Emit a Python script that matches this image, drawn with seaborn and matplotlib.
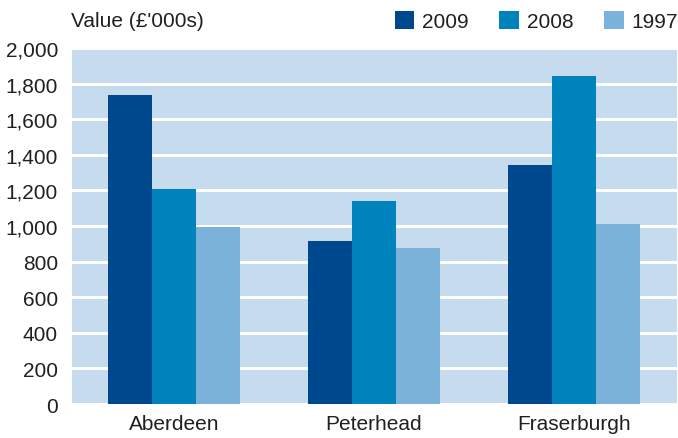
import matplotlib
matplotlib.use("Agg")
import matplotlib.pyplot as plt
import seaborn as sns
import pandas as pd

ports = ["Aberdeen", "Peterhead", "Fraserburgh"]
years = ["2009", "2008", "1997"]
values_2009 = [1735, 915, 1340]
values_2008 = [1210, 1140, 1845]
values_1997 = [995, 875, 1010]
y_ticks = [0, 200, 400, 600, 800, 1000, 1200, 1400, 1600, 1800, 2000]

df = pd.DataFrame({
    "Port": ports * 3,
    "Year": ["2009"] * 3 + ["2008"] * 3 + ["1997"] * 3,
    "Value": values_2009 + values_2008 + values_1997,
})

sns.set_style("white")
plt.rcParams["font.family"] = ["Liberation Sans", "DejaVu Sans"]
text_col = "#231f20"
fs = 15

fig = plt.figure(figsize=(6.78, 4.39), dpi=100)
ax = fig.add_axes([0.1062, 0.0774, 0.8923, 0.811])
ax.set_facecolor("#c6dbee")

palette = {"2009": "#00488e", "2008": "#0083bd", "1997": "#7bb2d9"}
sns.barplot(data=df, x="Port", y="Value", hue="Year", hue_order=years,
            order=ports, palette=palette, width=0.66, gap=0,
            saturation=1, linewidth=0, ax=ax, zorder=3)

ax.set_ylim(0, 2000)
ax.set_xlim(-0.51, 2.515)
ax.set_yticks(y_ticks)
ax.set_yticklabels([f"{v:,}" for v in y_ticks])
ax.yaxis.grid(True, color="white", linewidth=2.2, zorder=1)
ax.set_axisbelow(True)
for s in ax.spines.values():
    s.set_visible(False)
ax.tick_params(axis="both", length=0, labelsize=fs, colors=text_col)
ax.tick_params(axis="y", pad=10)
ax.tick_params(axis="x", pad=7)
ax.set_xlabel("")
ax.set_ylabel("")

handles, labels = ax.get_legend_handles_labels()
ax.legend(handles, labels, loc="center right", bbox_to_anchor=(1.0, 0.95),
          bbox_transform=fig.transFigure, ncol=3, frameon=False,
          fontsize=fs, handlelength=0.95, handleheight=0.95,
          handletextpad=0.35, columnspacing=1.5, labelcolor=text_col,
          borderaxespad=0, borderpad=0)

fig.text(0.104, 0.95, "Value (£'000s)", fontsize=fs, color=text_col,
         va="center", ha="left")

fig.savefig("out.png", dpi=100)
